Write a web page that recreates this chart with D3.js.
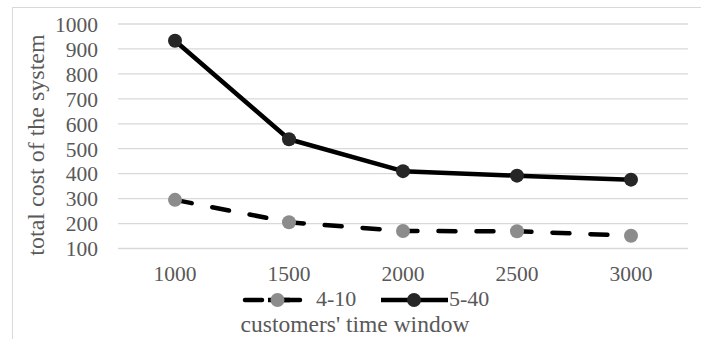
<!DOCTYPE html>
<html><head><meta charset="utf-8">
<script src="https://cdn.jsdelivr.net/npm/d3@7"></script>
<style>body{margin:0;background:#fff}svg{display:block}</style>
</head><body>
<svg id="c" width="701" height="339"></svg>
<script>
const categories = ["1000","1500","2000","2500","3000"];
const series410 = [295, 205, 170, 169, 151];
const series540 = [933, 538, 410, 392, 376];
const yTicks = [100,200,300,400,500,600,700,800,900,1000];
const seriesNames = ["4-10","5-40"];

const svg = d3.select("#c");
const font = "'Liberation Serif','Times New Roman',serif";
// chart frame
svg.append("rect").attr("x",12.5).attr("y",7.5).attr("width",700).attr("height",400)
  .attr("fill","none").attr("stroke","#d9d9d9").attr("stroke-width",1);

const x = d3.scaleBand().domain(categories).range([118,688]);
const y = d3.scaleLinear().domain([100,1000]).range([248.5,24]);

// gridlines
svg.append("g").selectAll("line").data(yTicks).join("line")
  .attr("x1",118).attr("x2",688).attr("y1",d=>y(d)).attr("y2",d=>y(d))
  .attr("stroke","#d9d9d9").attr("stroke-width",1.3);

// y axis
const ya = svg.append("g").attr("transform","translate(106,0)")
  .call(d3.axisLeft(y).tickValues(yTicks).tickFormat(d3.format("d")).tickSize(0).tickPadding(8));
ya.select(".domain").remove();
ya.selectAll("text").attr("font-family",font).attr("font-size",21.5).attr("fill","#595959").attr("dy","0.34em");

// x axis
const xa = svg.append("g").attr("transform","translate(0,257)")
  .call(d3.axisBottom(x).tickSize(0).tickPadding(8));
xa.select(".domain").remove();
xa.selectAll("text").attr("font-family",font).attr("font-size",21.5).attr("fill","#595959").attr("dy","0.75em");

const cx = d => x(d) + x.bandwidth()/2;
const line = d3.line().x((d,i)=>cx(categories[i])).y(d=>y(d));

// 4-10 dashed
svg.append("path").datum(series410).attr("d",line).attr("fill","none")
  .attr("stroke","#000").attr("stroke-width",4.5).attr("stroke-dasharray","17,21")
  .attr("stroke-linecap","round");
svg.append("g").selectAll("circle").data(series410).join("circle")
  .attr("cx",(d,i)=>cx(categories[i])).attr("cy",d=>y(d)).attr("r",7).attr("fill","#8c8c8c");

// 5-40 solid
svg.append("path").datum(series540).attr("d",line).attr("fill","none")
  .attr("stroke","#000").attr("stroke-width",4.5).attr("stroke-linejoin","round");
svg.append("g").selectAll("circle").data(series540).join("circle")
  .attr("cx",(d,i)=>cx(categories[i])).attr("cy",d=>y(d)).attr("r",7).attr("fill","#262626");

// legend
const lg = svg.append("g");
lg.append("line").attr("x1",245).attr("x2",302).attr("y1",300).attr("y2",300)
  .attr("stroke","#000").attr("stroke-width",4.5).attr("stroke-dasharray","17,21").attr("stroke-linecap","round");
lg.append("line").attr("x1",268).attr("x2",290).attr("y1",300).attr("y2",300)
  .attr("stroke","#000").attr("stroke-width",4.5);
lg.append("circle").attr("cx",277.5).attr("cy",300).attr("r",7).attr("fill","#8c8c8c");
lg.append("text").attr("x",316).attr("y",306).text(seriesNames[0])
  .attr("font-family",font).attr("font-size",22).attr("fill","#595959");
lg.append("line").attr("x1",381).attr("x2",448).attr("y1",300).attr("y2",300)
  .attr("stroke","#000").attr("stroke-width",4.5);
lg.append("circle").attr("cx",414).attr("cy",300).attr("r",7).attr("fill","#262626");
lg.append("text").attr("x",449).attr("y",306).text(seriesNames[1])
  .attr("font-family",font).attr("font-size",22).attr("fill","#595959");

// axis titles
svg.append("text").attr("x",355).attr("y",332).attr("text-anchor","middle")
  .text("customers' time window").attr("font-family",font).attr("font-size",23.5).attr("fill","#595959");
svg.append("text").attr("transform","translate(44,145) rotate(-90)").attr("text-anchor","middle")
  .text("total cost of the system").attr("font-family",font).attr("font-size",24).attr("fill","#595959");
</script>
</body></html>
